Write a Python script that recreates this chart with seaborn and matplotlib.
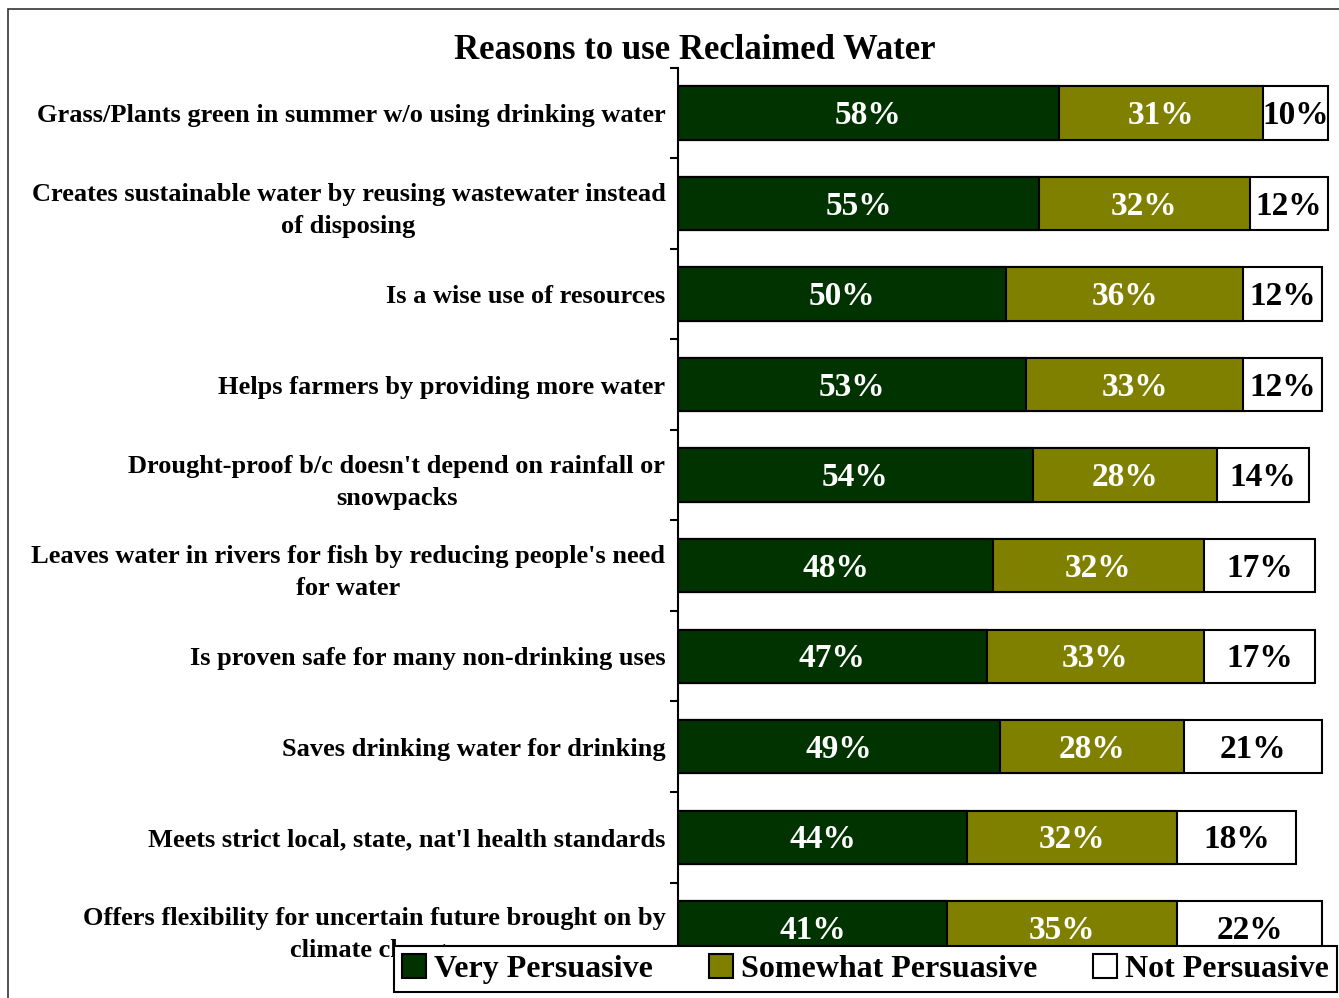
import matplotlib
matplotlib.use("Agg")
import matplotlib.pyplot as plt
import seaborn as sns
import pandas as pd
import numpy as np
from matplotlib.patches import Patch, Rectangle

categories = [
    "Grass/Plants green in summer w/o using drinking water",
    "Creates sustainable water by reusing wastewater instead\nof disposing",
    "Is a wise use of resources",
    "Helps farmers by providing more water",
    "Drought-proof b/c doesn't depend on rainfall or\nsnowpacks",
    "Leaves water in rivers for fish by reducing people's need\nfor water",
    "Is proven safe for many non-drinking uses",
    "Saves drinking water for drinking",
    "Meets strict local, state, nat'l health standards",
    "Offers flexibility for uncertain future brought on by\nclimate change",
]
very = [58, 55, 50, 53, 54, 48, 47, 49, 44, 41]
somewhat = [31, 32, 36, 33, 28, 32, 33, 28, 32, 35]
notp = [10, 12, 12, 12, 14, 17, 17, 21, 18, 22]
series_names = ["Very Persuasive", "Somewhat Persuasive", "Not Persuasive"]
colors = ["#003300", "#808000", "#ffffff"]
title = "Reasons to use Reclaimed Water"

df = pd.DataFrame({"cat": categories, "very": very, "somewhat": somewhat, "not": notp})
df["c1"] = df["very"]
df["c2"] = df["very"] + df["somewhat"]
df["c3"] = df["c2"] + df["not"]

sns.set_theme(style="white")
plt.rcParams["font.family"] = ["Liberation Serif", "DejaVu Serif"]
plt.rcParams["font.weight"] = "bold"
plt.rcParams["text.color"] = "black"
plt.rcParams["ytick.labelcolor"] = "black"

fig = plt.figure(figsize=(13.39, 9.98), dpi=100)
ax = fig.add_axes([0.5063, 0.025, 0.4907, 0.907])

bw = 0.59
for col, c in zip(["c3", "c2", "c1"], colors[::-1]):
    sns.barplot(data=df, x=col, y="cat", orient="h", color=c, edgecolor="black",
                linewidth=1.5, width=bw, ax=ax, saturation=1)

ax.set_xlim(0, 100)
ax.set_ylim(len(categories) - 0.5, -0.5)
ax.set_xlabel("")
ax.set_ylabel("")
ax.set_xticks([])
for s in ["top", "right", "bottom"]:
    ax.spines[s].set_visible(False)
ax.spines["left"].set_color("black")
ax.spines["left"].set_linewidth(1.5)

ax.set_yticks(range(len(categories)))
ax.set_yticklabels(categories, fontsize=19, fontweight="bold", multialignment="center",
                   linespacing=1.5, color="black")
ax.tick_params(axis="y", which="major", length=0, pad=9)
ax.set_yticks(np.arange(-0.5, len(categories), 1.0), minor=True)
ax.tick_params(axis="y", which="minor", length=6, width=1.5, color="black", left=True)

for i in range(len(categories)):
    starts = [0, very[i], very[i] + somewhat[i]]
    vals = [very[i], somewhat[i], notp[i]]
    tcols = ["white", "white", "black"]
    for s, v, tc in zip(starts, vals, tcols):
        ax.text(s + v / 2, i + 0.03, f"{v}%", ha="center", va="center", color=tc,
                fontsize=24, fontweight="bold")

fig.text(0.519, 0.949, title, ha="center", va="center", fontsize=25, fontweight="bold",
         color="black")

fig.patches.append(Rectangle((0.006, -0.05), 1.2, 0.991 + 0.05, transform=fig.transFigure,
                             fill=False, edgecolor="#333333", linewidth=1.2))

handles = [Patch(facecolor=c, edgecolor="black", linewidth=1.5) for c in colors]
leg = fig.legend(handles, series_names, loc="lower right", bbox_to_anchor=(0.9985, 0.006),
                 ncol=3, frameon=True, fancybox=False, edgecolor="black", framealpha=1,
                 prop={"family": "Liberation Serif", "weight": "bold", "size": 23},
                 handlelength=0.75, handleheight=0.75, handletextpad=0.25, columnspacing=1.75,
                 borderpad=0.25, borderaxespad=0)
leg.get_frame().set_linewidth(1.5)
for t in leg.get_texts():
    t.set_color("black")
leg.set_zorder(10)

fig.savefig("out.png", dpi=100)
